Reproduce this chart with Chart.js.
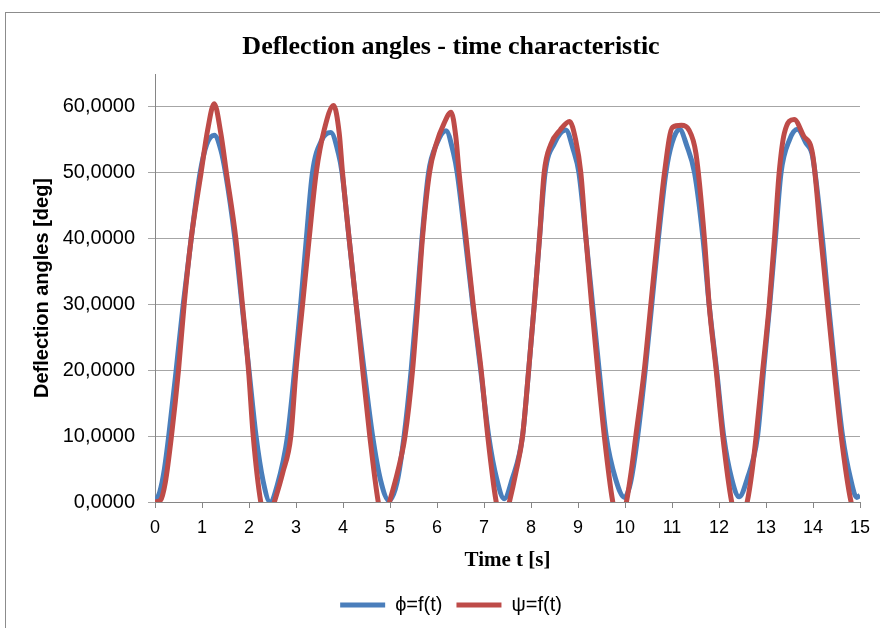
<!DOCTYPE html>
<html>
<head>
<meta charset="utf-8">
<script src="https://cdn.jsdelivr.net/npm/chart.js@4/dist/chart.umd.min.js"></script>
<style>
  body { margin: 0; background: #ffffff; }
  #wrap { position: relative; width: 880px; height: 628px; overflow: hidden; }
  #frame { position: absolute; left: 5px; top: 12px; width: 900px; height: 700px;
           border-left: 1px solid #8c8c8c; border-top: 1px solid #8c8c8c; }
  #chart { position: absolute; left: 0; top: 0; }
</style>
</head>
<body>
<div id="wrap">
  <div id="frame"></div>
  <canvas id="chart" width="880" height="628"></canvas>
</div>
<script>
// phi = f(t)  (blue)
const phiTime = [0, 0.1, 0.2, 0.3, 0.45, 0.6, 0.77, 0.96, 1.1, 1.26, 1.4, 1.5, 1.7, 1.85, 2.0, 2.15, 2.3, 2.45,
  2.6, 2.82, 2.97, 3.1, 3.22, 3.35, 3.55, 3.74, 3.9, 3.98, 4.13, 4.28, 4.45, 4.63, 4.8, 4.98,
  5.15, 5.3, 5.45, 5.57, 5.68, 5.82, 6.0, 6.19, 6.35, 6.43, 6.6, 6.76, 6.93, 7.1, 7.27, 7.43,
  7.6, 7.82, 7.95, 8.07, 8.18, 8.3, 8.5, 8.74, 8.9, 9.02, 9.17, 9.31, 9.45, 9.6, 9.8, 9.99,
  10.12, 10.27, 10.43, 10.57, 10.71, 10.87, 11.0, 11.16, 11.32, 11.48, 11.66, 11.79, 11.95, 12.1, 12.27, 12.43,
  12.6, 12.82, 12.95, 13.08, 13.2, 13.32, 13.5, 13.67, 13.85, 13.99, 14.2, 14.33, 14.47, 14.63, 14.8, 14.93, 15];
const phiValues = [0, 1.5, 5, 10.5, 20, 30, 40, 50, 54.3, 55.7, 53.5, 50, 40, 30, 20, 10, 3.2, 0,
  2.5, 10, 20, 30, 40, 50, 55, 56.1, 53, 50, 40, 30, 20, 10, 3.3, 0.2,
  3, 10, 20, 30, 40, 50, 54.5, 56.4, 53, 50, 40, 30, 20, 10, 3.5, 0.5,
  3.5, 10, 20, 30, 40, 50, 54.5, 56.5, 53.5, 50, 40, 30, 20, 10, 3.5, 0.7,
  3, 10, 20, 30, 40, 50, 54.5, 56.6, 54, 50, 40, 30, 20, 10, 3.5, 0.8,
  3.5, 10, 20, 30, 40, 50, 55, 56.6, 54.5, 52.5, 40, 30, 20, 10, 3.5, 0.7, 1.0];

// psi = f(t)  (red)
const psiTime = [0, 0.12, 0.22, 0.35, 0.5, 0.62, 0.77, 0.98, 1.12, 1.26, 1.4, 1.52, 1.72, 1.86, 1.99, 2.09, 2.25, 2.39, 2.54, 2.72,
  2.89, 3.0, 3.14, 3.28, 3.43, 3.6, 3.8, 3.92, 3.99, 4.13, 4.28, 4.42, 4.57, 4.75, 4.87, 4.99, 5.16,
  5.32, 5.48, 5.59, 5.69, 5.84, 5.98, 6.15, 6.3, 6.4, 6.47, 6.62, 6.77, 6.94, 7.08, 7.26, 7.4, 7.54, 7.68,
  7.82, 7.95, 8.07, 8.18, 8.28, 8.42, 8.62, 8.82, 8.95, 9.06, 9.17, 9.29, 9.42, 9.56, 9.74, 9.88, 10.03, 10.13,
  10.23, 10.41, 10.55, 10.69, 10.84, 11.01, 11.2, 11.36, 11.51, 11.69, 11.79, 11.94, 12.08, 12.27, 12.43, 12.6, 12.7,
  12.79, 12.93, 13.07, 13.18, 13.28, 13.39, 13.6, 13.8, 13.99, 14.17, 14.31, 14.45, 14.6, 14.81, 15];
const psiValues = [0, 0.3, 3, 10, 20, 30, 40, 50, 56.5, 60.5, 56, 50, 40, 30, 20, 10, 0, -3.5, 0, 4.5,
  10, 20, 30, 40, 50, 56.5, 60.2, 56, 50, 40, 30, 20, 10, 0, -3.5, 0, 4.5,
  10, 20, 30, 40, 50, 54.3, 57.5, 59.2, 55.5, 50, 40, 30, 20, 10, 0, -3.5, 0, 4.5,
  10, 20, 30, 40, 50, 54.3, 56.5, 57.8, 55, 50, 40, 30, 20, 10, 0, -3.5, 0, 4.5,
  10, 20, 30, 40, 50, 56.9, 57.2, 56.5, 52.9, 40, 30, 20, 10, 0, -3.5, 0, 4.5,
  10, 20, 30, 40, 50, 56, 58.1, 55.6, 52.9, 40, 30, 20, 10, 0, -3.5];

const seriesLabels = ['ϕ=f(t)', 'ψ=f(t)'];
const seriesColors = ['#4a7ebb', '#be4b48'];

const sans = 'Liberation Sans, Arial, sans-serif';
const serif = 'Liberation Serif, Times New Roman, serif';

const toPoints = (xs, ys) => xs.map((x, i) => ({ x: x, y: ys[i] }));

const ctx = document.getElementById('chart').getContext('2d');
new Chart(ctx, {
  type: 'line',
  data: {
    datasets: [
      {
        label: seriesLabels[0],
        data: toPoints(phiTime, phiValues),
        borderColor: seriesColors[0],
        backgroundColor: seriesColors[0],
        borderWidth: 5,
        pointRadius: 0,
        cubicInterpolationMode: 'monotone',
        order: 1
      },
      {
        label: seriesLabels[1],
        data: toPoints(psiTime, psiValues),
        borderColor: seriesColors[1],
        backgroundColor: seriesColors[1],
        borderWidth: 5,
        pointRadius: 0,
        cubicInterpolationMode: 'monotone',
        order: 0
      }
    ]
  },
  options: {
    responsive: false,
    animation: false,
    devicePixelRatio: 1,
    // left padding shifts the title/legend centre to the right, like the original
    layout: { padding: { left: 42, right: 20, top: 0, bottom: 3 } },
    plugins: {
      title: {
        display: true,
        text: 'Deflection angles - time characteristic',
        color: '#000',
        font: { family: serif, size: 26, weight: 'bold' },
        padding: { top: 31.4, bottom: 11.4 }
      },
      legend: {
        position: 'bottom',
        labels: {
          usePointStyle: true,
          pointStyle: 'line',
          pointStyleWidth: 45,
          color: '#000',
          font: { family: sans, size: 20 },
          padding: 14,
          sort: (a, b) => a.datasetIndex - b.datasetIndex
        }
      },
      tooltip: { enabled: false }
    },
    scales: {
      x: {
        type: 'linear',
        min: 0,
        max: 15,
        afterFit: s => { s.height = 79; },
        ticks: { stepSize: 1, autoSkip: false, maxRotation: 0, color: '#000',
                 font: { family: sans, size: 18 }, padding: 9 },
        grid: { drawOnChartArea: false, tickLength: 6, color: '#868686' },
        border: { color: '#868686' },
        title: { display: true, text: 'Time t [s]', color: '#000',
                 font: { family: serif, size: 21, weight: 'bold' }, padding: { top: 0, bottom: 8 } }
      },
      y: {
        min: 0,
        max: 65,
        afterFit: s => { s.width = 113; },
        afterBuildTicks: s => { s.ticks = s.ticks.filter(t => t.value <= 60); },
        ticks: { stepSize: 10, color: '#000', font: { family: sans, size: 20 }, padding: 13,
                 callback: v => v.toFixed(4).replace('.', ',') },
        grid: { color: '#a6a6a6', tickLength: 7 },
        border: { color: '#868686' },
        title: { display: true, text: 'Deflection angles [deg]', color: '#000',
                 font: { family: sans, size: 20, weight: 'bold' }, padding: { top: -12, bottom: 0 } }
      }
    }
  }
});
</script>
</body>
</html>
